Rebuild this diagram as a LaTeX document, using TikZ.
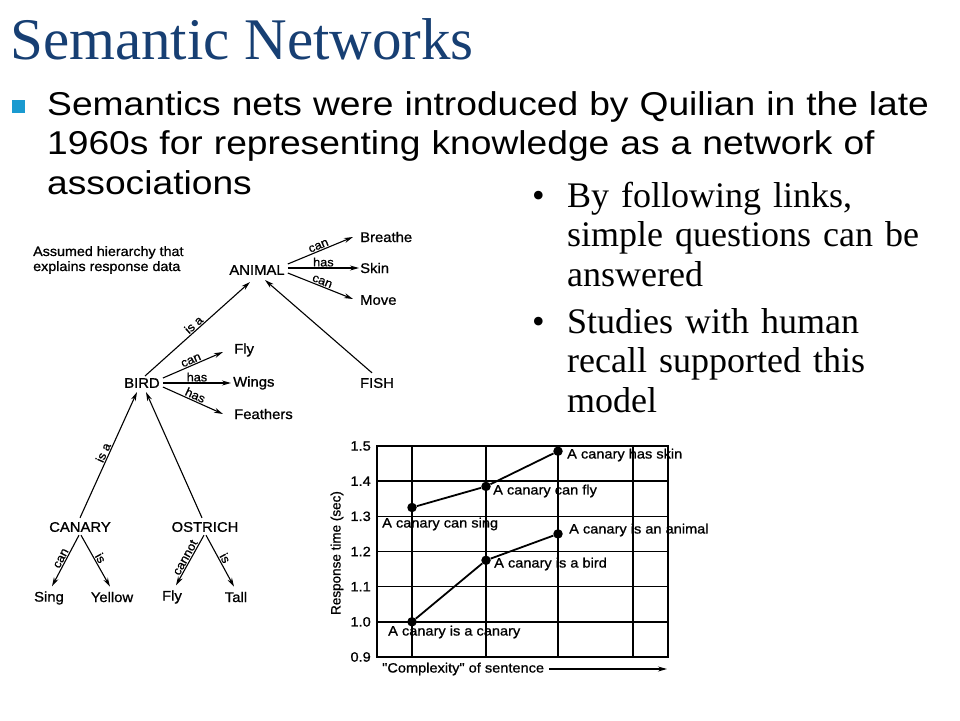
\documentclass[tikz,border=0pt]{standalone}
\usepackage{fontspec}
\setmainfont{Liberation Serif}
\newfontfamily\arialwide[FakeStretch=1.127]{Liberation Sans}
\newfontfamily\diag[FakeStretch=1.06,FakeBold=0.9]{Liberation Sans}
\newfontfamily\chartf[FakeStretch=1.08,FakeBold=0.9]{Liberation Sans}
\newfontfamily\chartrot[FakeBold=0.9]{Liberation Sans}
\usetikzlibrary{arrows.meta}
\definecolor{titleblue}{RGB}{23,63,115}
\definecolor{bulletblue}{RGB}{26,154,208}
\tikzset{
  concept/.style={font=\diag\fontsize{14}{16}\selectfont, inner sep=1pt},
  rel/.style={font=\diag\fontsize{12}{13}\selectfont, inner sep=1pt, sloped, above, midway},
  link/.style={-{Stealth[length=9pt,width=5pt]}, line width=1.1pt},
  gridline/.style={line width=1.6pt},
  curve/.style={line width=1.8pt},
  datum/.style={circle, fill=black, inner sep=0pt, minimum size=9.5pt},
  dlabel/.style={font=\chartf\fontsize{13.5}{15}\selectfont, inner sep=0pt, anchor=west},
  tick/.style={font=\chartf\fontsize{13.5}{15}\selectfont, inner sep=0pt, anchor=east},
  bigtext/.style={anchor=base west, inner sep=0pt, align=left, font=\fontsize{36}{39.7}\selectfont, text width=380pt},
  bigdot/.style={anchor=base east, inner sep=0pt, font=\fontsize{36}{39.7}\selectfont},
}
\begin{document}
\begin{tikzpicture}[x=1pt,y=-1pt]
\useasboundingbox (0,0) rectangle (960,720);
\fill[white] (0,0) rectangle (960,720);

% Title
\node[anchor=base west, inner sep=0pt, text=titleblue, font=\fontsize{59}{66}\selectfont] (title) at (10,59.5) {Semantic Networks};

% main bullet
\fill[bulletblue] (12,100) rectangle (25,113);
\node[anchor=base west, inner sep=0pt, align=left, text width=910pt, font=\arialwide\fontsize{33}{39.5}\selectfont] (intro) at (47,115)
  {Semantics nets were introduced by Quilian in the late\\1960s for representing knowledge as a network of\\associations};

% right bullets
\node[bigtext] (b1) at (567,207) {By following links,\\simple questions can be\\answered};
\node[bigdot] (d1) at (545,207) {\textbullet};
\node[bigtext] (b2) at (567,333) {Studies with human\\recall supported this\\model};
\node[bigdot] (d2) at (545,333) {\textbullet};

% Hierarchy
\node[anchor=west, align=left, inner sep=0pt, font=\diag\fontsize{13.5}{15}\selectfont] (caption) at (33,260)
  {Assumed hierarchy that\\explains response data};

\node[concept] (animal) at (257,270) {ANIMAL};
\node[concept, anchor=west] (breathe) at (359,237) {Breathe};
\node[concept, anchor=west] (skin) at (359,268) {Skin};
\node[concept, anchor=west] (move) at (359,300) {Move};
\node[concept] (bird) at (142,383) {BIRD};
\node[concept, anchor=west] (fly) at (233,350) {Fly};
\node[concept, anchor=west] (wings) at (232,383) {Wings};
\node[concept, anchor=west] (feathers) at (233,414) {Feathers};
\node[concept] (fish) at (377,383) {FISH};
\node[concept] (canary) at (80,527) {CANARY};
\node[concept] (ostrich) at (205,527) {OSTRICH};
\node[concept] (sing) at (49,598) {Sing};
\node[concept] (yellow) at (112,597) {Yellow};
\node[concept] (fly2) at (172,597) {Fly};
\node[concept] (tall) at (236,597) {Tall};

\draw[link] ([shift={(2,-6)}]animal.east) -- ([shift={(-6,0)}]breathe.west) node[rel] {can};
\draw[link] ([shift={(2,-2)}]animal.east) -- (skin.west) node[rel] {has};
\draw[link] ([shift={(2,3)}]animal.east) -- ([shift={(-6,-1)}]move.west) node[rel] {can};
\draw[link] ([shift={(3,-1)}]bird.north) -- ([shift={(-7,6)}]animal.south) node[rel] {is a};
\draw[link] ([shift={(-5,-4)}]fish.north) -- ([shift={(8,4)}]animal.south);
\draw[link] ([shift={(2,-5)}]bird.east) -- ([shift={(-10,2)}]fly.west) node[rel] {can};
\draw[link] ([shift={(2,0)}]bird.east) -- ([shift={(-1,0)}]wings.west) node[rel] {has};
\draw[link] ([shift={(2,4)}]bird.east) -- ([shift={(-10,0)}]feathers.west) node[rel] {has};
\draw[link] ([shift={(0,-3)}]canary.north) -- ([shift={(-5,3)}]bird.south) node[rel] {is a};
\draw[link] ([shift={(-3,-3)}]ostrich.north) -- ([shift={(4,3)}]bird.south);
\draw[link] ([shift={(-1,2)}]canary.south) -- ([shift={(3,-4)}]sing.north) node[rel] {can};
\draw[link] ([shift={(1,2)}]canary.south) -- ([shift={(-2,-4)}]yellow.north) node[rel] {is};
\draw[link] ([shift={(-1,2)}]ostrich.south) -- ([shift={(4,-4)}]fly2.north) node[rel] {cannot};
\draw[link] ([shift={(1,2)}]ostrich.south) -- ([shift={(-2,-4)}]tall.north) node[rel] {is};

% Chart
\draw[gridline] (377,446) rectangle (668,657);
\foreach \xx in {412,486,558,633} \draw[gridline] (\xx,446) -- (\xx,657);
\foreach \v/\lab in {0/0.9,1/1.0,2/1.1,3/1.2,4/1.3,5/1.4,6/1.5} {
  \draw[gridline] (377,657-\v*35.17) -- (668,657-\v*35.17);
  \node[tick] at (371,657-\v*35.17) {\lab};
}
\node[rotate=90, font=\chartrot\fontsize{13.5}{15}\selectfont, inner sep=0pt] (ylab) at (337,553) {Response time (sec)};

\node[datum] (p1) at (412,507.5) {};
\node[datum] (p2) at (486,486.4) {};
\node[datum] (p3) at (558,451.2) {};
\node[datum] (q1) at (412,621.8) {};
\node[datum] (q2) at (486,560.3) {};
\node[datum] (q3) at (558,533.9) {};
\draw[curve] (p1) -- (p2) -- (p3);
\draw[curve] (q1) -- (q2) -- (q3);

\node[dlabel] (l3) at (567,455) {A canary has skin};
\node[dlabel] (l2) at (493,491) {A canary can fly};
\node[dlabel] (l1) at (382,524) {A canary can sing};
\node[dlabel] (m3) at (569,530) {A canary is an animal};
\node[dlabel] (m2) at (494,564) {A canary is a bird};
\node[dlabel] (m1) at (388,632) {A canary is a canary};

\node[dlabel] (xlab) at (382,669) {"Complexity" of sentence};
\coordinate (xend) at (667,669);
\draw[link] ([xshift=5pt]xlab.east) -- (xend);
\end{tikzpicture}
\end{document}
